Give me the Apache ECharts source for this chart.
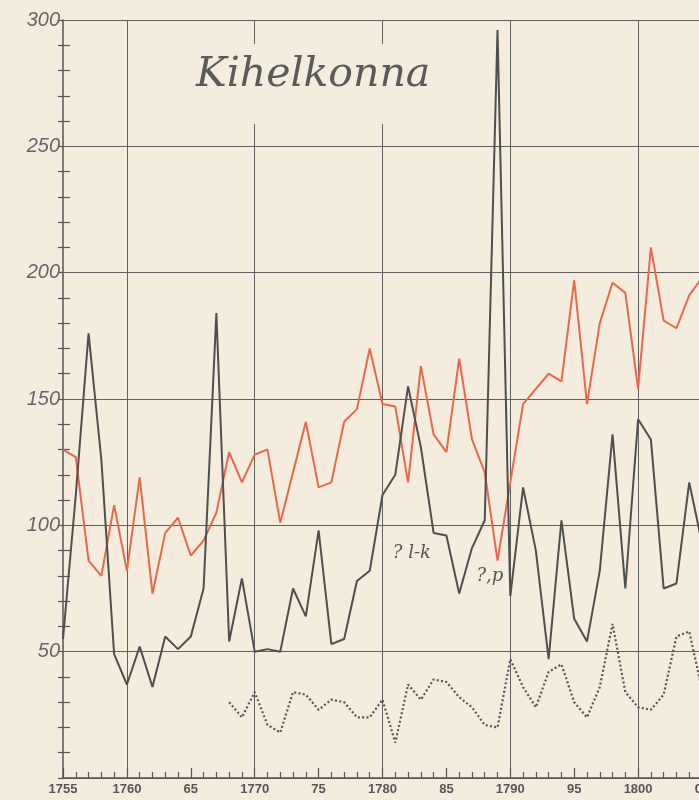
<!DOCTYPE html>
<html>
<head>
<meta charset="utf-8">
<script src="https://cdn.jsdelivr.net/npm/echarts@6/dist/echarts.min.js"></script>
<style>
html,body{margin:0;padding:0;background:#f4eddd;}
#c{width:699px;height:800px;}
</style>
</head>
<body>
<div id="c"></div>
<script>
// Years 1755..1805
const years = [1755,1756,1757,1758,1759,1760,1761,1762,1763,1764,1765,1766,1767,1768,1769,1770,1771,1772,1773,1774,1775,1776,1777,1778,1779,1780,1781,1782,1783,1784,1785,1786,1787,1788,1789,1790,1791,1792,1793,1794,1795,1796,1797,1798,1799,1800,1801,1802,1803,1804,1805];
// red line (1755..1805)
const redValues = [130,127,86,80,108,82,119,73,97,103,88,94,105,129,117,128,130,101,121,141,115,117,141,146,170,148,147,117,163,136,129,166,134,121,86,117,148,154,160,157,197,148,180,196,192,154,210,181,178,191,198];
// dark solid line (1755..1805)
const darkValues = [55,112,176,126,49,37,52,36,56,51,56,75,184,54,79,50,51,50,75,64,98,53,55,78,82,112,120,155,131,97,96,73,91,102,296,72,115,90,47,102,63,54,82,136,75,142,134,75,77,117,93];
// dotted line (1768..1805)
const dottedStart = 1768;
const dottedValues = [30,24,34,21,18,34,33,27,31,30,24,24,31,14,37,31,39,38,32,28,21,20,47,36,28,42,45,30,24,36,61,34,28,27,33,56,58,35];
const yTicks = [0,50,100,150,200,250,300];
const titleText = 'Kihelkonna';
const notes = [{text:'? l-k', x:1782.3, y:89},{text:'?,p', x:1788.4, y:80}];

const redData = years.map((y,i)=>[y, redValues[i]]);
const darkData = years.map((y,i)=>[y, darkValues[i]]);
const dottedData = dottedValues.map((v,i)=>[dottedStart+i, v]);

const chart = echarts.init(document.getElementById('c'), null, {renderer:'canvas'});
const gridLine = '#606060';
chart.setOption({
  backgroundColor:'#f4eddd',
  animation:false,
  grid:{left:63, right:-3, top:20, bottom:22, containLabel:false, outerBoundsMode:'none'},
  xAxis:[{
    type:'value', min:1755, max:1805, interval:5,
    axisLine:{show:true, lineStyle:{color:'#555', width:1.5}},
    axisTick:{show:true, inside:true, length:10, lineStyle:{color:'#555', width:1.2}},
    minorTick:{show:true, splitNumber:5, length:6, lineStyle:{color:'#555', width:1.2}},
    splitLine:{show:true, lineStyle:{color:['rgba(0,0,0,0)', gridLine], width:1}},
    axisLabel:{
      margin:5, color:'#555', fontFamily:'Liberation Sans', fontSize:13, fontWeight:'bold',
      hideOverlap:false,
      formatter:function(v){ return (v===1755 || v%10===0) ? String(v) : String(v).slice(2); }
    }
  }],
  yAxis:[{
    type:'value', min:yTicks[0], max:yTicks[yTicks.length-1], interval:50,
    axisLine:{show:true, lineStyle:{color:'#555', width:1.5}},
    axisTick:{show:false, inside:true},
    minorTick:{show:true, splitNumber:5, length:7, lineStyle:{color:'#555', width:1.2}},
    splitLine:{show:true, lineStyle:{color:gridLine, width:1}},
    axisLabel:{
      margin:3, color:'#666', fontFamily:'Liberation Sans', fontStyle:'italic', fontSize:20,
      formatter:function(v){ return v===0 ? '' : String(v); }
    }
  },{
    type:'value', min:0, max:300, interval:10, position:'left',
    axisLine:{show:false},
    axisTick:{show:true, inside:false, length:5, lineStyle:{color:'#555', width:1.2}},
    splitLine:{show:false},
    axisLabel:{show:false}
  }],
  graphic:[
    {type:'rect', left:192, top:44, shape:{width:250, height:80}, style:{fill:'#f4eddd'}, z:5},
    {type:'text', left:196, top:55, z:6,
     style:{text:titleText, font:'italic 41px "DejaVu Serif"', fill:'#5a5a5a'}}
  ],
  series:[
    {type:'line', data:redData, symbol:'none', lineStyle:{color:'#e9674d', width:2}, z:2},
    {type:'line', data:darkData, symbol:'none', lineStyle:{color:'#4f4f4f', width:2}, z:3,
     markPoint:{
       symbol:'circle', symbolSize:0, itemStyle:{color:'rgba(0,0,0,0)'},
       label:{show:true, position:'inside', color:'#555', fontFamily:'DejaVu Serif', fontStyle:'italic', fontSize:18,
              formatter:function(p){ return p.name; }},
       data: notes.map(n=>({name:n.text, coord:[n.x, n.y]}))
     }},
    {type:'line', data:dottedData, symbol:'none', lineStyle:{color:'#555', width:2.2, type:[2,2.3]}, z:3}
  ]
});
</script>
</body>
</html>
